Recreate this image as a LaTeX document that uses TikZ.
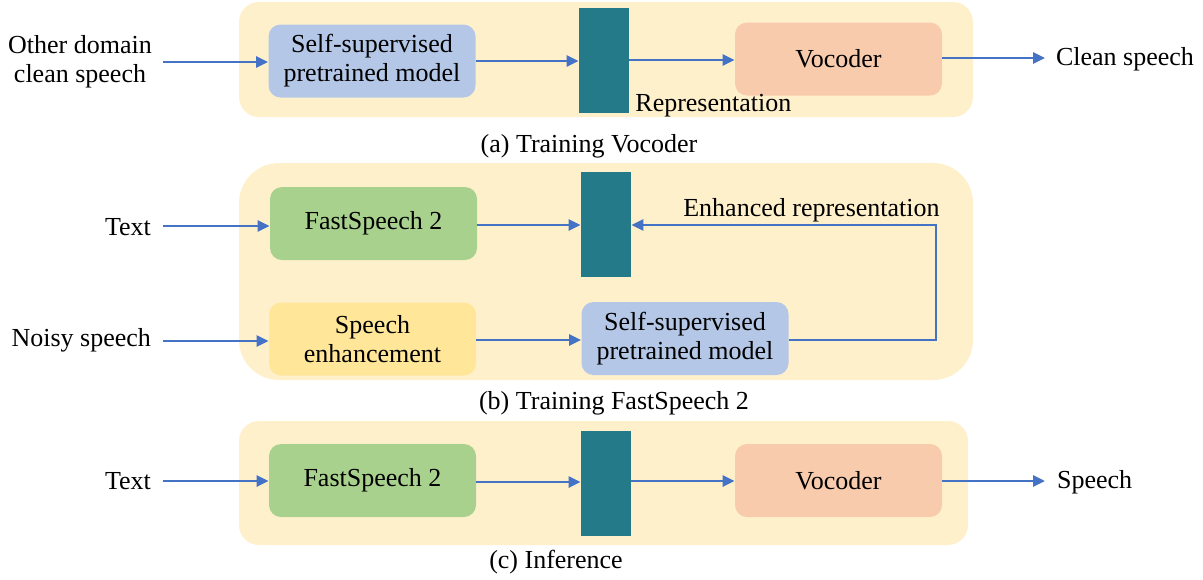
\documentclass[tikz,border=0pt]{standalone}
\usepackage{fontspec}
\setmainfont{Liberation Serif}
\usepackage{tikz}
\usetikzlibrary{arrows.meta}

\definecolor{panelbg}{HTML}{FFF0CC}
\definecolor{sslblue}{HTML}{B4C7E7}
\definecolor{fsgreen}{HTML}{A9D18E}
\definecolor{seyellow}{HTML}{FFE699}
\definecolor{vocpeach}{HTML}{F8CBAD}
\definecolor{barteal}{HTML}{257A89}
\definecolor{arrowblue}{HTML}{4472C4}

\begin{document}
\begin{tikzpicture}[x=0.5pt,y=-0.5pt,
		every node/.style={font=\fontsize{13}{14.5}\selectfont},
		panel/.style={fill=panelbg,rounded corners=10pt},
		block/.style={rounded corners=6pt,minimum width=103.5pt,minimum height=36.5pt,align=center,inner sep=0pt},
		featbar/.style={fill=barteal,minimum width=25pt,minimum height=52.5pt,inner sep=0pt},
		flow/.style={draw=arrowblue,line width=1.4pt,-{Triangle[length=6pt,width=5.5pt]}}]
	\useasboundingbox (0,0) rectangle (1203,579);
	% panels
	\fill[panel] (239,2) rectangle (973,117);
	\fill[panel,rounded corners=20pt] (239,163) rectangle (973,380);
	\fill[panel] (239,421) rectangle (968,545);
	
	% (a) training vocoder
	\node[align=center] (ina) at (80,62) {Other domain\\clean speech};
	\node[block,fill=sslblue] (ssla) at (372,61) {Self-supervised\\pretrained model};
	\node[featbar] (bara) at (604,60.5) {};
	\node[block,fill=vocpeach] (voca) at (838.5,59) {Vocoder};
	\node[anchor=west] (outa) at (1049,59) {Clean speech};
	\node[anchor=north west,inner sep=0pt] (repa) at (635,94) {Representation};
	\node (capa) at (589,146) {(a) Training Vocoder};
	\draw[flow] (163,62) -- (ssla.west|-0,62);
	\draw[flow] (ssla.east|-0,61) -- (bara.west|-0,61);
	\draw[flow] (bara.east|-0,60) -- (voca.west|-0,60);
	\draw[flow] (voca.east|-0,58) -- (1045,58);
	
	% (b) training fastspeech 2
	\node[anchor=east] (textb) at (158,227) {Text};
	\node[anchor=east] (noisyb) at (158,340) {Noisy speech};
	\node[block,fill=fsgreen] (fsb) at (373.5,223.5) {FastSpeech 2};
	\node[featbar] (barb) at (606,224) {};
	\node[block,fill=seyellow] (seb) at (372.5,339) {Speech\\enhancement};
	\node[block,fill=sslblue] (sslb) at (685,338.5) {Self-supervised\\pretrained model};
	\node[anchor=south east,inner sep=0pt] (enhb) at (940,222) {Enhanced representation};
	\node (capb) at (614,403) {(b) Training FastSpeech 2};
	\draw[flow] (163,226) -- (fsb.west|-0,226);
	\draw[flow] (fsb.east|-0,225) -- (barb.west|-0,225);
	\draw[flow] (163,341) -- (seb.west|-0,341);
	\draw[flow] (seb.east|-0,340) -- (sslb.west|-0,340);
	\draw[flow] (sslb.east|-0,340) -- (936,340) -- (936,225) -- (barb.east|-0,225);
	
	% (c) inference
	\node[anchor=east] (textc) at (158,481) {Text};
	\node[block,fill=fsgreen] (fsc) at (372.5,480.5) {FastSpeech 2};
	\node[featbar] (barc) at (606,483) {};
	\node[block,fill=vocpeach] (vocc) at (838.5,480.5) {Vocoder};
	\node[anchor=west] (outc) at (1050,482) {Speech};
	\node (capc) at (556,562) {(c) Inference};
	\draw[flow] (163,481) -- (fsc.west|-0,481);
	\draw[flow] (fsc.east|-0,482) -- (barc.west|-0,482);
	\draw[flow] (barc.east|-0,481) -- (vocc.west|-0,481);
	\draw[flow] (vocc.east|-0,481) -- (1045,481);
\end{tikzpicture}
\end{document}
